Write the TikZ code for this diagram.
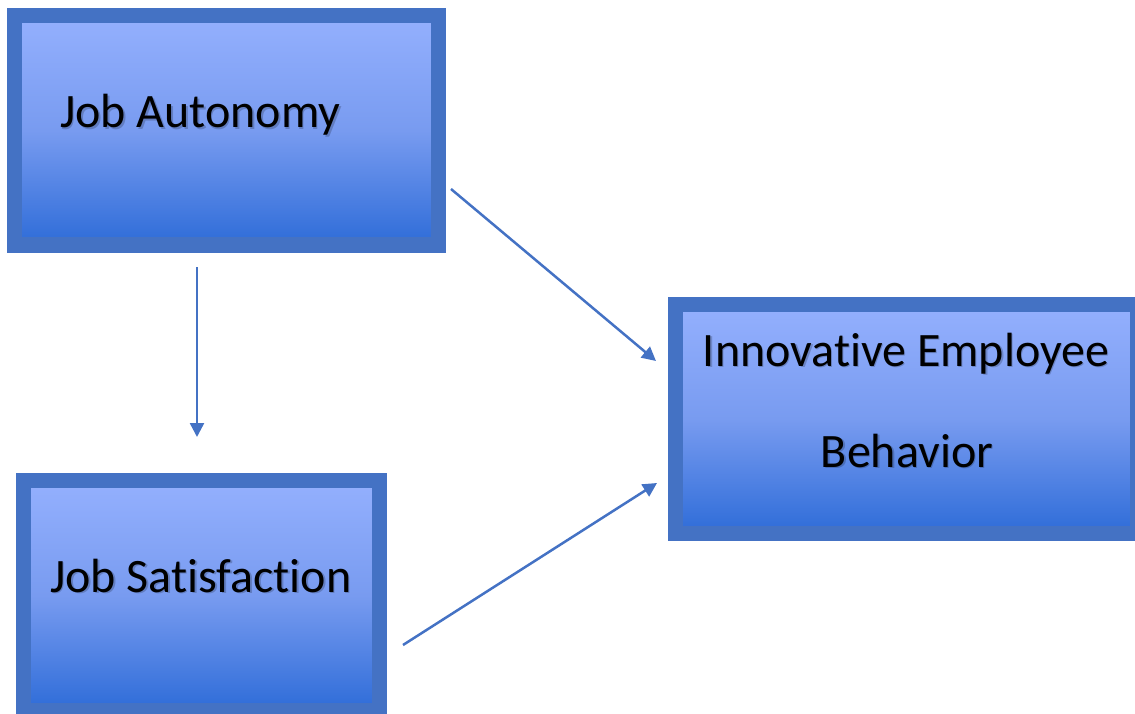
\documentclass[tikz,border=0pt]{standalone}
\usepackage{fontspec}
\setmainfont{Carlito}[Ligatures=NoCommon,RawFeature=-liga]
\usetikzlibrary{arrows.meta}
\definecolor{bordc}{RGB}{68,114,196}
\definecolor{topc}{RGB}{148,176,254}
\definecolor{midc}{RGB}{120,155,240}
\definecolor{botc}{RGB}{46,108,216}
\tikzset{
  boxnode/.style={rectangle, draw=bordc, line width=15pt, inner sep=0pt,
    top color=topc, bottom color=botc, middle color=midc},
  lbl/.style={inner sep=0pt, font=\fontsize{48}{58}\selectfont, text=black},
  shd/.style={inner sep=0pt, font=\fontsize{48}{58}\selectfont, text=black, opacity=0.2},
  conn/.style={draw=bordc, line width=2.5pt, -{Triangle[length=14pt,width=14pt]}}
}
\begin{document}
\begin{tikzpicture}[x=1pt,y=-1pt]
\useasboundingbox (0,0) rectangle (1135,714);
% boxes
\node[boxnode, minimum width=424pt, minimum height=229pt] (ja) at (226.5,130.5) {};
\node[boxnode, minimum width=462pt, minimum height=229pt] (ieb) at (906.5,419) {};
\node[boxnode, minimum width=356pt, minimum height=230pt] (js) at (201.5,595.5) {};
% text shadows
\node[shd, anchor=base west] (jas) at (61.5,129.5) {Job Autonomy};
\node[shd, anchor=base west] (jss) at (51.5,593.5) {Job Satisfaction};
\node[shd, anchor=base] (ies1) at (907.5,367.5) {Innovative Employee};
\node[shd, anchor=base] (ies2) at (908.5,468.5) {Behavior};
% text
\node[lbl, anchor=base west] (jat) at (60,128) {Job Autonomy};
\node[lbl, anchor=base west] (jst) at (50,592) {Job Satisfaction};
\node[lbl, anchor=base] (iet1) at (906,366) {Innovative Employee};
\node[lbl, anchor=base] (iet2) at (907,467) {Behavior};
% connector ends
\coordinate (a1) at (197,267);
\coordinate (a2) at (197,437);
\coordinate (b1) at (451,189);
\coordinate (b2) at (656,361);
\coordinate (c1) at (403,645);
\coordinate (c2) at (657,483);
\draw[conn] (a1) -- (a2);
\draw[conn] (b1) -- (b2);
\draw[conn] (c1) -- (c2);
\end{tikzpicture}
\end{document}
